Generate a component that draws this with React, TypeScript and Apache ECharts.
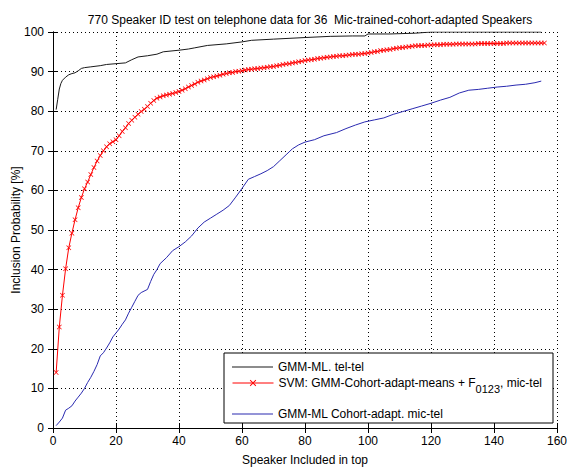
import React, { useEffect, useRef } from 'react';
import * as echarts from 'echarts';

const FONT = '"Liberation Sans", Arial, Helvetica, sans-serif';

const titleText = '770 Speaker ID test on telephone data for 36  Mic-trained-cohort-adapted Speakers';
const xAxisName = 'Speaker Included in top';
const yAxisName = 'Inclusion Probability [%]';

const nameTelTel = 'GMM-ML. tel-tel';
const nameSvm = 'SVM: GMM-Cohort-adapt-means + F0123, mic-tel';
const nameCohort = 'GMM-ML Cohort-adapt. mic-tel';

// GMM-ML tel-tel (black)
const blackX = [1, 1.5, 2, 2.5, 3, 4, 5, 6, 7, 8, 9, 10, 12, 15, 17, 20, 23, 25, 27, 30, 33, 35, 40, 43, 45, 49, 55, 60, 63, 70, 80, 88, 95, 99, 100, 107, 115, 120, 155];
const blackY = [80.4, 83, 85.6, 87, 87.8, 88.6, 89.2, 89.5, 89.7, 90.2, 90.8, 91, 91.2, 91.5, 91.8, 92, 92.2, 93, 93.7, 94, 94.4, 95, 95.4, 95.7, 96, 96.6, 97, 97.5, 97.9, 98.2, 98.6, 98.9, 99, 99, 99.5, 99.5, 99.7, 100, 100];

// SVM (red, one marker per speaker rank 1..156)
const redY = [
  14.0, 25.5, 33.5, 40.2, 45.5, 49.2, 52.6, 55.6, 58.2, 60.4,
  62.1, 64.0, 65.8, 67.4, 68.8, 70.0, 71.0, 71.8, 72.3, 72.8,
  73.8, 74.9, 75.8, 76.9, 77.7, 78.5, 79.2, 79.9, 80.5, 81.2,
  82.0, 82.7, 83.3, 83.6, 83.9, 84.1, 84.3, 84.5, 84.7, 85.0,
  85.3, 85.7, 86.1, 86.5, 86.9, 87.3, 87.6, 87.9, 88.2, 88.5,
  88.7, 88.9, 89.1, 89.3, 89.5, 89.7, 89.8, 90.0, 90.1, 90.2,
  90.4, 90.5, 90.6, 90.7, 90.8, 90.9, 91.0, 91.1, 91.2, 91.3,
  91.5, 91.6, 91.8, 91.9, 92.0, 92.2, 92.3, 92.5, 92.6, 92.8,
  92.9, 93.0, 93.1, 93.3, 93.4, 93.5, 93.6, 93.7, 93.8, 93.9,
  94.0, 94.0, 94.1, 94.2, 94.3, 94.4, 94.4, 94.5, 94.6, 94.7,
  94.8, 95.0, 95.1, 95.3, 95.4, 95.5, 95.6, 95.8, 95.9, 96.0,
  96.1, 96.2, 96.3, 96.4, 96.5, 96.5, 96.6, 96.6, 96.7, 96.7,
  96.8, 96.8, 96.8, 96.9, 96.9, 96.9, 96.9, 97.0, 97.0, 97.0,
  97.0, 97.0, 97.0, 97.0, 97.1, 97.1, 97.1, 97.1, 97.1, 97.1,
  97.1, 97.1, 97.1, 97.2, 97.2, 97.2, 97.2, 97.2, 97.2, 97.2,
  97.2, 97.2, 97.2, 97.2, 97.2, 97.2
];

// GMM-ML Cohort-adapt (blue)
const blueX = [1, 2, 3, 4, 5, 6, 7, 8, 9, 10, 11, 12, 13, 14, 15, 16, 17, 18, 19, 20, 21, 22, 23, 24, 25, 26, 27, 28, 30, 31, 32, 33, 34, 36, 38, 40, 42, 44, 46, 48, 50, 52, 54, 56, 58, 60, 62, 64, 66, 68, 70, 72, 74, 76, 78, 80, 83, 86, 90, 93, 96, 99, 102, 105, 108, 111, 114, 117, 120, 123, 126, 129, 132, 135, 138, 141, 144, 147, 150, 153, 155];
const blueY = [0.6, 1.5, 2.5, 4.5, 5, 5.6, 6.8, 7.8, 8.8, 10, 11.5, 12.8, 14.3, 16, 18.2, 19, 20.2, 21.5, 23, 24, 25, 26.2, 27.3, 29, 30.5, 32, 33.5, 34.2, 35, 37, 38.8, 40, 41.5, 43, 44.8, 45.8, 47, 48.5, 50.5, 52, 53, 54, 55, 56.2, 58.3, 60.5, 62.8, 63.5, 64.2, 65, 66, 67.5, 69, 70.5, 71.5, 72.2, 72.8, 73.8, 74.6, 75.6, 76.5, 77.3, 77.8, 78.3, 79.2, 79.9, 80.6, 81.3, 82, 82.8, 83.5, 84.6, 85.3, 85.5, 85.8, 86.1, 86.3, 86.6, 86.8, 87.2, 87.6];

const xTicks = { min: 0, max: 160, interval: 20 };
const yTicks = { min: 0, max: 100, interval: 10 };

const BLACK = '#1a1a1a';
const RED = '#ff0000';
const BLUE = '#2a2ab0';

const X_SYMBOL = 'path://M0,1 L1,0 L5,4 L9,0 L10,1 L6,5 L10,9 L9,10 L5,6 L1,10 L0,9 L4,5 Z';

export default function App() {
  const ref = useRef<HTMLDivElement>(null);
  useEffect(() => {
    if (!ref.current) return;
    const chart = echarts.init(ref.current, undefined, { renderer: 'svg' });
    const gridLine = { show: true, lineStyle: { color: '#000', type: [1, 3], width: 1 } };
    const legendCommon = {
      orient: 'horizontal',
      itemWidth: 41,
      itemHeight: 8,
      itemGap: 0,
      padding: 0,
      z: 20,
      selectedMode: false,
      lineStyle: { width: 1 },
      textStyle: { fontSize: 12, color: '#000', fontFamily: FONT },
    };
    const option: any = {
      animation: false,
      backgroundColor: '#fff',
      title: {
        text: titleText,
        left: 305,
        textAlign: 'center',
        top: 9,
        textStyle: { fontSize: 12, fontWeight: 'normal', color: '#000', fontFamily: FONT },
      },
      grid: { left: 53, top: 32, right: 10, bottom: 39, containLabel: false, outerBoundsMode: 'none' },
      graphic: [
        {
          type: 'rect',
          z: 10,
          zlevel: 0,
          shape: { x: 224, y: 353, width: 329, height: 70 },
          style: { fill: '#fff', stroke: '#000', lineWidth: 1 },
        },
      ],
      legend: [
        {
          ...legendCommon,
          itemHeight: 1,
          data: [{ name: nameTelTel, icon: 'rect', itemStyle: { color: BLACK } }],
          left: 232,
          top: 361,
        },
        {
          ...legendCommon,
          data: [nameSvm],
          left: 232,
          top: 377,
          formatter: () => '{a|SVM: GMM-Cohort-adapt-means + F}{s|0123}{a|, mic-tel}',
          textStyle: {
            fontSize: 12,
            color: '#000',
            fontFamily: FONT,
            rich: {
              a: { fontSize: 12, color: '#000', fontFamily: FONT },
              s: { fontSize: 11, color: '#000', fontFamily: FONT, padding: [12, 0, 0, 0] },
            },
          },
        },
        {
          ...legendCommon,
          itemHeight: 1,
          data: [{ name: nameCohort, icon: 'rect', itemStyle: { color: BLUE } }],
          left: 232,
          top: 408,
        },
      ],
      xAxis: [
        {
          type: 'value',
          ...xTicks,
          position: 'bottom',
          name: xAxisName,
          nameLocation: 'middle',
          nameGap: 26,
          nameMoveOverlap: false,
          nameTextStyle: { fontSize: 12, color: '#000', fontFamily: FONT },
          axisLine: { show: true, lineStyle: { color: '#000', width: 1 } },
          axisTick: { show: true, inside: true, length: 5, lineStyle: { color: '#000' } },
          axisLabel: { fontSize: 12, color: '#000', fontFamily: FONT, margin: 7 },
          splitLine: gridLine,
        },
        {
          type: 'value',
          ...xTicks,
          position: 'top',
          axisLine: { show: true, lineStyle: { color: '#000', width: 1 } },
          axisTick: { show: true, inside: true, length: 5, lineStyle: { color: '#000' } },
          axisLabel: { show: false },
          splitLine: { show: false },
        },
      ],
      yAxis: [
        {
          type: 'value',
          ...yTicks,
          position: 'left',
          name: yAxisName,
          nameLocation: 'middle',
          nameGap: 31,
          nameMoveOverlap: false,
          nameTextStyle: { fontSize: 12, color: '#000', fontFamily: FONT },
          axisLine: { show: true, lineStyle: { color: '#000', width: 1 } },
          axisTick: { show: true, inside: true, length: 5, lineStyle: { color: '#000' } },
          axisLabel: { fontSize: 12, color: '#000', fontFamily: FONT, margin: 9 },
          splitLine: gridLine,
        },
        {
          type: 'value',
          ...yTicks,
          position: 'right',
          axisLine: { show: true, lineStyle: { color: '#000', width: 1 } },
          axisTick: { show: true, inside: true, length: 5, lineStyle: { color: '#000' } },
          axisLabel: { show: false },
          splitLine: { show: false },
        },
      ],
      series: [
        {
          name: nameTelTel,
          type: 'line',
          data: blackX.map((x, i) => [x, blackY[i]]),
          showSymbol: false,
          symbol: 'none',
          color: BLACK,
          lineStyle: { color: BLACK, width: 1 },
          z: 3,
        },
        {
          name: nameSvm,
          type: 'line',
          data: redY.map((v, i) => [i + 1, v]),
          symbol: X_SYMBOL,
          symbolSize: 5,
          color: RED,
          itemStyle: { color: RED },
          lineStyle: { color: RED, width: 1 },
          z: 3,
        },
        {
          name: nameCohort,
          type: 'line',
          data: blueX.map((x, i) => [x, blueY[i]]),
          showSymbol: false,
          symbol: 'none',
          color: BLUE,
          lineStyle: { color: BLUE, width: 1 },
          z: 3,
        },
      ],
    };
    chart.setOption(option);
    return () => chart.dispose();
  }, []);
  return (
    <div
      ref={ref}
      style={{ position: 'fixed', left: 0, top: 0, width: 567, height: 467, background: '#fff' }}
    />
  );
}
